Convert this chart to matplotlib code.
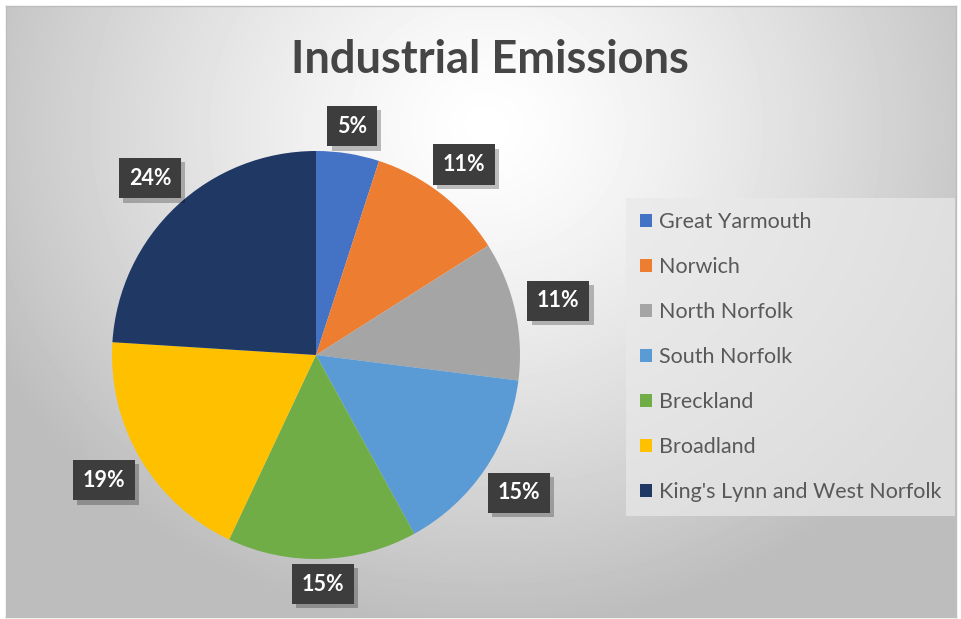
import numpy as np
import matplotlib
matplotlib.use('Agg')
import matplotlib.pyplot as plt
import matplotlib.patheffects as pe

districts = ['Great Yarmouth', 'Norwich', 'North Norfolk', 'South Norfolk',
             'Breckland', 'Broadland', "King's Lynn and West Norfolk"]
shares = [5, 11, 11, 15, 15, 19, 24]
colors = ['#4472C4', '#ED7D31', '#A5A5A5', '#5B9BD5', '#70AD47', '#FFC000', '#203864']
title = 'Industrial Emissions'

plt.rcParams['font.family'] = ['Lato', 'DejaVu Sans']

W, H = 961, 619
fig = plt.figure(figsize=(W / 100, H / 100), dpi=100, facecolor='white')

# gradient background of the chart area
bg = fig.add_axes([6 / W, 2 / H, 950 / W, 611 / H])
yy, xx = np.mgrid[0:611, 0:950]
d = np.hypot(xx - 480, (yy - 120) * 1.1)
shade = np.clip(1.0 - 0.24 * (d / 520) ** 1.3, 0.74, 1.0)
bg.imshow(shade, cmap='gray', vmin=0, vmax=1, aspect='auto', interpolation='bilinear')
bg.set_xticks([])
bg.set_yticks([])
for s in bg.spines.values():
    s.set_color('#bdbdbd')
    s.set_linewidth(1)

# pie
cx, cy, r = 316, 355, 204
ax = fig.add_axes([(cx - r) / W, (H - cy - r) / H, 2 * r / W, 2 * r / H])
wedges, texts, autotexts = ax.pie(
    shares, colors=colors, startangle=90, counterclock=False,
    autopct=lambda p: f'{p:.0f}%', pctdistance=1.19,
    wedgeprops=dict(linewidth=0),
    textprops=dict(color='white', fontsize=15.5, fontweight='bold'))
ax.set_xlim(-1, 1)
ax.set_ylim(-1, 1)
ax.axis('off')

for w, t in zip(wedges, autotexts):
    ang = np.deg2rad((w.theta1 + w.theta2) / 2)
    rr = 1.12 + 0.1 * abs(np.cos(ang))
    t.set_position((rr * np.cos(ang), rr * np.sin(ang)))
    t.set_bbox(dict(boxstyle='square,pad=0.45', facecolor='#3d3d3d',
                    edgecolor='none', linewidth=0))
    t.get_bbox_patch().set_path_effects([
        pe.SimplePatchShadow(offset=(3, -3), shadow_rgbFace='black', alpha=0.25),
        pe.Normal()])

fig.text(490 / W, 1 - 73 / H, title, ha='center', va='baseline',
         fontsize=32.5, fontweight='bold', color='#454545')

leg = fig.legend(wedges, districts, loc='upper left',
                 bbox_to_anchor=(626 / W, 1 - 198 / H), borderaxespad=0,
                 fontsize=15.5, labelcolor='#595959', frameon=True,
                 handlelength=0.56, handleheight=0.56, handletextpad=0.3,
                 labelspacing=1.165, borderpad=0.65, fancybox=False)
leg.get_frame().set_facecolor('#e9e9e9')
leg.get_frame().set_alpha(0.7)
leg.get_frame().set_edgecolor('none')

fig.savefig('out.png', dpi=100, facecolor='white')
